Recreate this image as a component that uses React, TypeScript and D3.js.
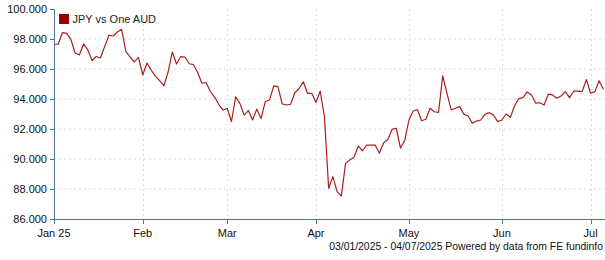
import React from "react";
import * as d3 from "d3";

const seriesName = "JPY vs One AUD";
const startDate = "2025-01-03";
const endDate = "2025-07-04";
const footerText = "03/01/2025 - 04/07/2025 Powered by data from FE fundinfo";
const yTicks = [86, 88, 90, 92, 94, 96, 98, 100];
const monthLabels = ["Jan 25", "Feb", "Mar", "Apr", "May", "Jun", "Jul"];
const values = [
  97.65, 97.65, 98.43, 98.37, 97.97, 97.07, 96.93, 97.67, 97.27, 96.57,
  96.83, 96.73, 97.51, 98.25, 98.2, 98.47, 98.65, 97.17, 96.8, 96.47,
  96.77, 95.6, 96.4, 95.93, 95.53, 95.23, 94.88, 95.8, 97.13, 96.33,
  96.83, 96.8, 96.35, 96.3, 95.77, 95.05, 95.1, 94.5, 94.13, 93.63,
  93.27, 93.37, 92.5, 94.15, 93.71, 92.93, 93.23, 92.6, 93.33, 92.7,
  93.83, 93.93, 94.87, 94.82, 93.67, 93.6, 93.65, 94.42, 94.7, 95.15,
  94.38, 94.38, 93.77, 94.53, 92.82, 88.05, 88.82, 87.83, 87.53, 89.71,
  89.93, 90.11, 90.87, 90.55, 90.93, 90.93, 90.93, 90.38, 91.07, 91.3,
  91.97, 92.05, 90.73, 91.23, 92.6, 93.2, 93.3, 92.55, 92.65, 93.38,
  93.15, 93.11, 95.55, 94.37, 93.27, 93.38, 93.49, 92.98, 92.87, 92.38,
  92.53, 92.6, 92.98, 93.09, 92.93, 92.49, 92.6, 93.0, 92.78, 93.53,
  94.03, 94.09, 94.47, 94.27, 93.73, 93.75, 93.6, 94.33, 94.27, 94.05,
  94.2, 94.49, 94.09, 94.53, 94.53, 94.49, 95.3, 94.38, 94.49, 95.22,
  94.65,
];

// weekday calendar (x axis is by trading day)
function weekdays(a: string, b: string): Date[] {
  const out: Date[] = [];
  const d = new Date(a + "T00:00:00Z");
  const e = new Date(b + "T00:00:00Z");
  while (d <= e) {
    const wd = d.getUTCDay();
    if (wd !== 0 && wd !== 6) out.push(new Date(d));
    d.setUTCDate(d.getUTCDate() + 1);
  }
  return out;
}

const W = 605;
const H = 260;
const left = 54;
const top = 9;
const bottom = 219;
const right = 603.3;
const axisColor = "#4f74a6";
const gridColor = "#dcdcdc";
const lineColor = "#a8201f";
const font = "'Liberation Sans', Arial, sans-serif";

export default function App() {
  const dates = weekdays(startDate, endDate);
  const n = values.length;
  const x = d3.scaleLinear().domain([0, n - 1]).range([left, right]);
  const y = d3.scaleLinear().domain([86, 100]).range([bottom, top]);
  const monthTicks: number[] = [];
  dates.forEach((d, i) => {
    if (i === 0 || d.getUTCMonth() !== dates[i - 1].getUTCMonth()) monthTicks.push(i);
  });
  const line = d3
    .line<number>()
    .x((_, i) => x(i))
    .y((v) => y(v));
  const fmt = d3.format(".3f");

  return (
    <div style={{ position: "absolute", left: 0, top: 0 }}>
      <svg width={W} height={H} style={{ display: "block", background: "#fff" }}>
        {/* horizontal grid */}
        {yTicks
          .filter((t) => t !== 86 && t !== 100)
          .map((t) => (
            <line key={"hg" + t} x1={left} x2={W} y1={y(t)} y2={y(t)} stroke={gridColor} strokeDasharray="2,3" />
          ))}
        {/* vertical grid */}
        {monthTicks.slice(1).map((i) => (
          <line key={"vg" + i} x1={Math.round(x(i)) + 0.5} x2={Math.round(x(i)) + 0.5} y1={top} y2={bottom} stroke={gridColor} strokeDasharray="2,3" />
        ))}
        {/* series */}
        <path d={line(values) || ""} fill="none" stroke={lineColor} strokeWidth={1.2} strokeLinejoin="round" />
        {/* y axis */}
        <line x1={left + 0.5} x2={left + 0.5} y1={top} y2={bottom} stroke={axisColor} />
        {yTicks.map((t) => (
          <g key={"yt" + t}>
            <line x1={left - 4} x2={left} y1={Math.round(y(t)) + 0.5} y2={Math.round(y(t)) + 0.5} stroke={axisColor} />
            <text x={left - 7} y={y(t)} dy="0.35em" textAnchor="end" fontFamily={font} fontSize={11} fill="#111">
              {fmt(t)}
            </text>
          </g>
        ))}
        {/* x axis */}
        <line x1={left} x2={W} y1={bottom + 0.5} y2={bottom + 0.5} stroke={axisColor} />
        {monthTicks.map((i, k) => (
          <g key={"xt" + i}>
            <line x1={Math.round(x(i)) + 0.5} x2={Math.round(x(i)) + 0.5} y1={bottom} y2={bottom + 5} stroke={axisColor} />
            <text x={x(i)} y={bottom + 18} textAnchor="middle" fontFamily={font} fontSize={11} fill="#111">
              {monthLabels[k]}
            </text>
          </g>
        ))}
        {/* legend */}
        <rect x={59} y={14} width={10} height={10} fill="#990000" />
        <text x={72.5} y={23} fontFamily={font} fontSize={11} fill="#222">
          {seriesName}
        </text>
        {/* footer */}
        <text x={603} y={250} textAnchor="end" fontFamily={font} fontSize={10.4} fill="#111">
          {footerText}
        </text>
      </svg>
    </div>
  );
}
